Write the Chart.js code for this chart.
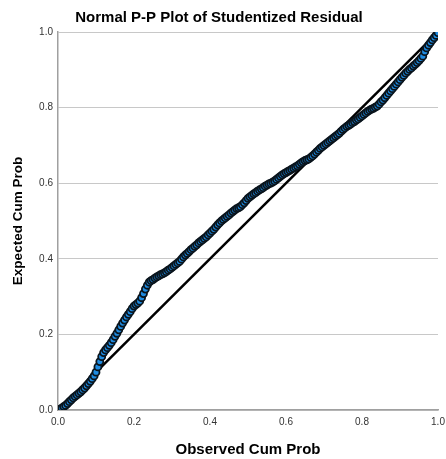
<!DOCTYPE html>
<html>
<head>
<meta charset="utf-8">
<script src="https://cdn.jsdelivr.net/npm/chart.js@4/dist/chart.umd.min.js"></script>
<style>
  html, body { margin: 0; padding: 0; background: #fff; }
  #wrap { width: 446px; height: 459px; }
</style>
</head>
<body>
<div id="wrap"><canvas id="ppChart" width="446" height="459"></canvas></div>
<script>
const chartTitle = 'Normal P-P Plot of Studentized Residual';
const xTitle = 'Observed Cum Prob';
const yTitle = 'Expected Cum Prob';
const tickValues = [0, 0.2, 0.4, 0.6, 0.8, 1.0];

// observed cumulative probability (x)
const observedProb = [
  0.000, 0.005, 0.010, 0.015, 0.020, 0.025, 0.030, 0.035, 0.040, 0.045,
  0.050, 0.055, 0.060, 0.065, 0.070, 0.075, 0.080, 0.085, 0.090, 0.095,
  0.100, 0.105, 0.110, 0.115, 0.120, 0.125, 0.130, 0.135, 0.140, 0.145,
  0.150, 0.155, 0.160, 0.165, 0.170, 0.175, 0.180, 0.185, 0.190, 0.195,
  0.200, 0.205, 0.210, 0.215, 0.220, 0.225, 0.230, 0.235, 0.240, 0.245,
  0.250, 0.255, 0.260, 0.265, 0.270, 0.275, 0.280, 0.285, 0.290, 0.295,
  0.300, 0.305, 0.310, 0.315, 0.320, 0.325, 0.330, 0.335, 0.340, 0.345,
  0.350, 0.355, 0.360, 0.365, 0.370, 0.375, 0.380, 0.385, 0.390, 0.395,
  0.400, 0.405, 0.410, 0.415, 0.420, 0.425, 0.430, 0.435, 0.440, 0.445,
  0.450, 0.455, 0.460, 0.465, 0.470, 0.475, 0.480, 0.485, 0.490, 0.495,
  0.500, 0.505, 0.510, 0.515, 0.520, 0.525, 0.530, 0.535, 0.540, 0.545,
  0.550, 0.555, 0.560, 0.565, 0.570, 0.575, 0.580, 0.585, 0.590, 0.595,
  0.600, 0.605, 0.610, 0.615, 0.620, 0.625, 0.630, 0.635, 0.640, 0.645,
  0.650, 0.655, 0.660, 0.665, 0.670, 0.675, 0.680, 0.685, 0.690, 0.695,
  0.700, 0.705, 0.710, 0.715, 0.720, 0.725, 0.730, 0.735, 0.740, 0.745,
  0.750, 0.755, 0.760, 0.765, 0.770, 0.775, 0.780, 0.785, 0.790, 0.795,
  0.800, 0.805, 0.810, 0.815, 0.820, 0.825, 0.830, 0.835, 0.840, 0.845,
  0.850, 0.855, 0.860, 0.865, 0.870, 0.875, 0.880, 0.885, 0.890, 0.895,
  0.900, 0.905, 0.910, 0.915, 0.920, 0.925, 0.930, 0.935, 0.940, 0.945,
  0.950, 0.955, 0.960, 0.965, 0.970, 0.975, 0.980, 0.985, 0.990, 0.995,
  1.000
];
// expected cumulative probability (y)
const expectedProb = [
  0.000, 0.002, 0.005, 0.009, 0.012, 0.017, 0.022, 0.027, 0.032, 0.036,
  0.040, 0.044, 0.048, 0.053, 0.058, 0.064, 0.070, 0.076, 0.083, 0.090,
  0.100, 0.114, 0.128, 0.141, 0.152, 0.159, 0.165, 0.171, 0.178, 0.186,
  0.195, 0.203, 0.212, 0.221, 0.230, 0.238, 0.246, 0.253, 0.260, 0.268,
  0.275, 0.279, 0.283, 0.288, 0.297, 0.308, 0.320, 0.330, 0.338, 0.342,
  0.345, 0.349, 0.352, 0.355, 0.358, 0.360, 0.363, 0.366, 0.370, 0.373,
  0.377, 0.381, 0.385, 0.389, 0.393, 0.399, 0.405, 0.410, 0.414, 0.419,
  0.424, 0.428, 0.433, 0.437, 0.442, 0.446, 0.450, 0.454, 0.458, 0.463,
  0.468, 0.473, 0.478, 0.484, 0.490, 0.495, 0.500, 0.504, 0.508, 0.512,
  0.516, 0.521, 0.525, 0.529, 0.533, 0.535, 0.538, 0.543, 0.548, 0.554,
  0.560, 0.564, 0.568, 0.572, 0.575, 0.579, 0.582, 0.585, 0.588, 0.592,
  0.595, 0.598, 0.600, 0.603, 0.606, 0.610, 0.614, 0.618, 0.622, 0.625,
  0.628, 0.631, 0.634, 0.637, 0.640, 0.643, 0.646, 0.650, 0.654, 0.657,
  0.660, 0.662, 0.664, 0.668, 0.672, 0.677, 0.682, 0.687, 0.692, 0.696,
  0.700, 0.704, 0.708, 0.712, 0.716, 0.720, 0.724, 0.728, 0.732, 0.737,
  0.742, 0.746, 0.750, 0.753, 0.756, 0.760, 0.763, 0.767, 0.770, 0.774,
  0.778, 0.782, 0.786, 0.790, 0.793, 0.796, 0.798, 0.801, 0.804, 0.809,
  0.815, 0.820, 0.826, 0.832, 0.838, 0.844, 0.850, 0.856, 0.862, 0.868,
  0.874, 0.880, 0.885, 0.891, 0.896, 0.901, 0.905, 0.910, 0.914, 0.919,
  0.924, 0.930, 0.936, 0.948, 0.958, 0.965, 0.972, 0.979, 0.985, 0.991,
  0.998
];
// reference diagonal
const diagX = [0, 1];
const diagY = [0, 1];

const points = observedProb.map((x, i) => ({x: x, y: expectedProb[i]}));
const diagonal = diagX.map((x, i) => ({x: x, y: diagY[i]}));

const FONT = 'Liberation Sans, Arial, sans-serif';

const ctx = document.getElementById('ppChart');
new Chart(ctx, {
  type: 'scatter',
  data: {
    datasets: [
      {
        label: 'Diagonal',
        type: 'line',
        data: diagonal,
        borderColor: '#000',
        borderWidth: 2.5,
        pointRadius: 0,
        order: 2
      },
      {
        label: 'Residual',
        data: points,
        backgroundColor: '#1f8be0',
        borderColor: '#0a141c',
        borderWidth: 1.8,
        pointRadius: 3.5,
        order: 1
      }
    ]
  },
  options: {
    responsive: false,
    animation: false,
    layout: { padding: { left: 0, right: 8, top: 0, bottom: 0 } },
    plugins: {
      legend: { display: false },
      tooltip: { enabled: false },
      title: {
        display: true,
        text: chartTitle,
        color: '#000',
        font: { family: FONT, size: 15, weight: 'bold' },
        padding: { top: 9, bottom: 5 }
      }
    },
    scales: {
      x: {
        type: 'linear',
        min: 0,
        max: 1,
        afterBuildTicks: (scale) => { scale.ticks = tickValues.map(v => ({value: v})); },
        grid: { display: false, drawTicks: false },
        border: { display: true, color: '#a0a0a0', width: 1.5 },
        ticks: {
          padding: 6,
          color: '#333',
          font: { family: FONT, size: 10 },
          callback: (v) => v.toFixed(1)
        },
        title: {
          display: true,
          text: xTitle,
          color: '#000',
          font: { family: FONT, size: 15, weight: 'bold' },
          padding: { top: 4, bottom: 0 }
        },
        afterFit: (scale) => { scale.height = 49; scale.paddingRight = 0; }
      },
      y: {
        type: 'linear',
        min: 0,
        max: 1,
        afterBuildTicks: (scale) => { scale.ticks = tickValues.map(v => ({value: v})); },
        grid: { color: '#c8c8c8', lineWidth: 1, drawTicks: false },
        border: { display: true, color: '#a0a0a0', width: 1.5 },
        ticks: {
          padding: 5,
          color: '#333',
          font: { family: FONT, size: 10 },
          callback: (v) => v.toFixed(1)
        },
        title: {
          display: true,
          text: yTitle,
          color: '#000',
          font: { family: FONT, size: 13.5, weight: 'bold' },
          padding: { top: 10, bottom: 4 }
        },
        afterFit: (scale) => { scale.width = 58; }
      }
    }
  }
});
</script>
</body>
</html>
